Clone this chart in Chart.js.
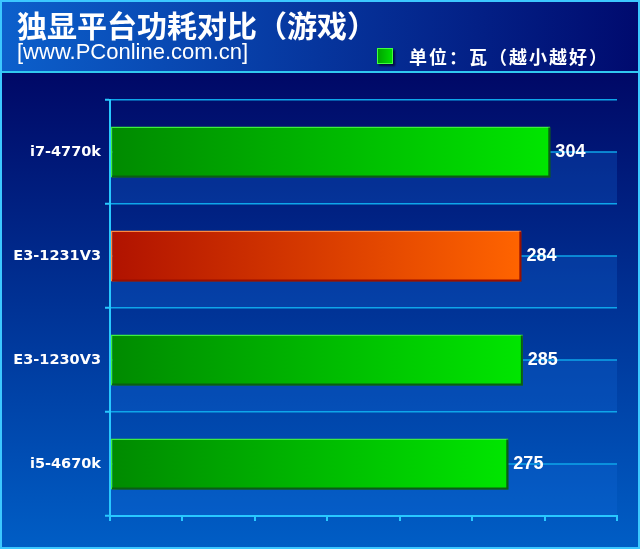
<!DOCTYPE html>
<html>
<head>
<meta charset="utf-8">
<script src="https://cdn.jsdelivr.net/npm/chart.js@4/dist/chart.umd.min.js"></script>
<style>
  html, body { margin: 0; padding: 0; background: #00106e; }
  #wrap { width: 640px; height: 549px; }
</style>
</head>
<body>
<div id="wrap"><canvas id="powerChart" width="640" height="549"></canvas></div>
<script>
// chart data
const titleText = '独显平台功耗对比（游戏）';
const siteText = '[www.PConline.com.cn]';
const unitLabel = '单位：瓦（越小越好）';
const categories = ['i7-4770k', 'E3-1231V3', 'E3-1230V3', 'i5-4670k'];
const powerWatts = [304, 284, 285, 275];
const barTone = ['green', 'red', 'green', 'green'];
const axisMin = 0;
const axisMax = 350;
const axisStep = 50;

const TONES = {
  green: { from: '#008a00', to: '#00e600', light: '#3cf03c', dark: '#0a5e14' },
  red: { from: '#b01200', to: '#ff6400', light: '#ff8a40', dark: '#9a0e00' }
};
const LINE_COLOR = '#0ea6ea';
const AXIS_COLOR = '#28c8ff';

function barGradient(context) {
  const chart = context.chart;
  const tone = TONES[barTone[context.dataIndex]];
  const area = chart.chartArea;
  if (!area || !chart.scales.x) return tone.from;
  const end = chart.scales.x.getPixelForValue(context.raw);
  const g = chart.ctx.createLinearGradient(area.left, 0, end, 0);
  g.addColorStop(0, tone.from);
  g.addColorStop(1, tone.to);
  return g;
}

// background, header and bands
const backdrop = {
  id: 'backdrop',
  beforeDraw(chart) {
    const { ctx, width, height, chartArea } = chart;
    ctx.save();
    const bg = ctx.createLinearGradient(0, 72, 0, height);
    bg.addColorStop(0, '#000866');
    bg.addColorStop(1, '#005ec6');
    ctx.fillStyle = bg;
    ctx.fillRect(0, 0, width, height);

    const hg = ctx.createLinearGradient(0, 0, width, 0);
    hg.addColorStop(0, '#0c60cc');
    hg.addColorStop(1, '#000a6e');
    ctx.fillStyle = hg;
    ctx.fillRect(0, 0, width, 72);

    // lighter lower half of each category
    const y = chart.scales.y;
    const half = (y.getPixelForValue(1) - y.getPixelForValue(0)) / 2;
    categories.forEach((c, i) => {
      const cy = y.getPixelForValue(i);
      ctx.fillStyle = 'rgba(20,110,220,0.26)';
      ctx.fillRect(chartArea.left, cy, chartArea.right - chartArea.left, half);
      ctx.strokeStyle = LINE_COLOR;
      ctx.lineWidth = 1.5;
      ctx.beginPath();
      ctx.moveTo(chartArea.left, cy);
      ctx.lineTo(chartArea.right, cy);
      ctx.stroke();
    });

    // header divider and outer frame
    ctx.strokeStyle = '#30c8f0';
    ctx.lineWidth = 2;
    ctx.beginPath();
    ctx.moveTo(0, 72);
    ctx.lineTo(width, 72);
    ctx.stroke();
    ctx.strokeStyle = '#3cc8ff';
    ctx.strokeRect(1, 1, width - 2, height - 2);

    // header text
    ctx.fillStyle = '#ffffff';
    ctx.textAlign = 'left';
    ctx.textBaseline = 'middle';
    ctx.font = 'bold 30px "Noto Sans CJK SC"';
    ctx.fillText(titleText, 17, 26);
    ctx.textBaseline = 'alphabetic';
    ctx.font = '22px "Liberation Sans"';
    ctx.fillText(siteText, 17, 59);

    // legend box
    ctx.shadowColor = 'rgba(0,0,30,0.7)';
    ctx.shadowOffsetX = 2;
    ctx.shadowOffsetY = 2;
    ctx.shadowBlur = 2;
    const lg = ctx.createLinearGradient(377, 0, 393, 0);
    lg.addColorStop(0, '#00a000');
    lg.addColorStop(1, '#00e000');
    ctx.fillStyle = lg;
    ctx.fillRect(377, 48, 16, 16);
    ctx.shadowColor = 'transparent';
    ctx.strokeStyle = '#40ff40';
    ctx.lineWidth = 1;
    ctx.strokeRect(377.5, 48.5, 15, 15);

    ctx.fillStyle = '#ffffff';
    ctx.textBaseline = 'middle';
    ctx.font = 'bold 18px "Noto Sans CJK SC"';
    if ('letterSpacing' in ctx) ctx.letterSpacing = '2px';
    ctx.fillText(unitLabel, 409, 57);
    ctx.restore();
  }
};

// bar shadow, dark edges and value labels
const barDecor = {
  id: 'barDecor',
  beforeDatasetsDraw(chart) {
    const ctx = chart.ctx;
    ctx.save();
    ctx.shadowColor = 'rgba(0,0,30,0.6)';
    ctx.shadowOffsetX = 3;
    ctx.shadowOffsetY = 3;
    ctx.shadowBlur = 3;
  },
  afterDatasetsDraw(chart) {
    const ctx = chart.ctx;
    ctx.restore();
    ctx.save();
    const meta = chart.getDatasetMeta(0);
    meta.data.forEach((bar, i) => {
      const { x, y, base, height } = bar.getProps(['x', 'y', 'base', 'height'], true);
      const tone = TONES[barTone[i]];
      const top = y - height / 2;
      const bottom = y + height / 2;
      ctx.strokeStyle = tone.dark;
      ctx.lineWidth = 2;
      ctx.beginPath();
      ctx.moveTo(base + 1, bottom - 1);
      ctx.lineTo(x - 1, bottom - 1);
      ctx.lineTo(x - 1, top + 1);
      ctx.stroke();

      ctx.fillStyle = '#ffffff';
      ctx.font = 'bold 18px "Liberation Sans"';
      ctx.textAlign = 'left';
      ctx.textBaseline = 'middle';
      ctx.fillText(String(powerWatts[i]), x + 5, y);
    });
    ctx.restore();
  }
};

new Chart(document.getElementById('powerChart').getContext('2d'), {
  type: 'bar',
  data: {
    labels: categories,
    datasets: [{
      label: unitLabel,
      data: powerWatts,
      backgroundColor: barGradient,
      borderColor: (c) => TONES[barTone[c.dataIndex]].light,
      borderWidth: 1.5,
      borderSkipped: false,
      categoryPercentage: 1,
      barPercentage: 0.49
    }]
  },
  options: {
    indexAxis: 'y',
    responsive: false,
    animation: false,
    layout: { padding: { top: 100, right: 23, bottom: 28, left: 0 } },
    plugins: {
      legend: { display: false },
      title: { display: false },
      tooltip: { enabled: false }
    },
    scales: {
      x: {
        min: axisMin,
        max: axisMax,
        ticks: { display: false, stepSize: axisStep },
        grid: { drawOnChartArea: false, drawTicks: true, tickLength: 5, color: AXIS_COLOR, lineWidth: 2 },
        border: { color: AXIS_COLOR, width: 2 },
        afterFit(scale) { scale.height = 5; }
      },
      y: {
        ticks: {
          color: '#ffffff',
          font: { family: 'DejaVu Sans', size: 14.5, weight: 'bold' },
          padding: 4
        },
        grid: { color: LINE_COLOR, lineWidth: 1.5, tickLength: 5, tickColor: AXIS_COLOR, tickWidth: 2 },
        border: { color: AXIS_COLOR, width: 2 },
        afterFit(scale) { scale.width = 110; }
      }
    }
  },
  plugins: [backdrop, barDecor]
});
</script>
</body>
</html>
